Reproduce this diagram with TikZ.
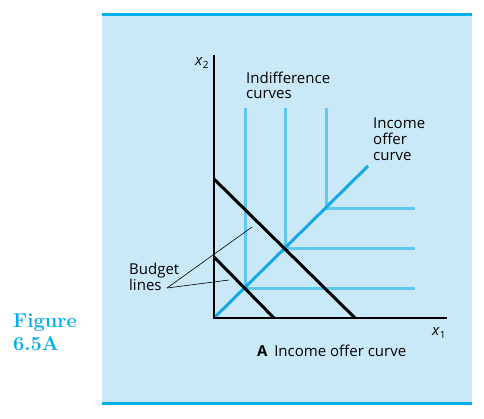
\documentclass[tikz,border=0pt]{standalone}
\usepackage{fontspec}
\setmainfont{Latin Modern Roman}
\setsansfont{Open Sans}
\definecolor{panelbg}{HTML}{C9E9F9}
\definecolor{rulecyan}{HTML}{00AEEF}
\definecolor{offercol}{HTML}{16A9E6}
\definecolor{indiffcol}{HTML}{5CC8F4}
\begin{document}
\begin{tikzpicture}[x=1pt,y=-1pt,
  lbl/.style={font=\sffamily\fontsize{15}{16}\selectfont, inner sep=0pt, align=left},
  axis/.style={line width=2pt, black},
  budget/.style={line width=3pt, black},
  indiff/.style={line width=3pt, indiffcol},
  offer/.style={line width=3pt, offercol},
  leader/.style={line width=0.6pt, black}]
\useasboundingbox (0,0) rectangle (484,418);
\fill[white] (0,0) rectangle (484,418);
\fill[panelbg] (102,15) rectangle (472,402);
\draw[rulecyan, line width=3pt] (102,14.5) -- (472,14.5);
\draw[rulecyan, line width=3pt] (102,403) -- (472,403);
% coordinates
\coordinate (O) at (214,318);
\coordinate (ytop) at (214,55);
\coordinate (xend) at (447,318);
\coordinate (c1) at (245,288);
\coordinate (c2) at (285,248);
\coordinate (c3) at (326,208);
\coordinate (oend) at (368,166);
\coordinate (b1a) at (214,257);
\coordinate (b1b) at (274,318);
\coordinate (b2a) at (214,179);
\coordinate (b2b) at (355,318);
% indifference curves
\draw[indiff] (245,108) -- (c1) -- (415,288);
\draw[indiff] (285,108) -- (c2) -- (415,248);
\draw[indiff] (326,108) -- (c3) -- (415,208);
% income offer curve
\draw[offer] (O) -- (oend);
% budget lines
\draw[budget, line cap=butt] (b1a) -- (b1b);
\draw[budget, line cap=butt] (b2a) -- (b2b);
% axes
\draw[axis] (ytop) -- (O) -- (xend);
% labels
\node[lbl, anchor=base west] (x2) at (195,65) {\textit{x}\raisebox{-0.4ex}{\fontsize{10}{11}\selectfont 2}};
\node[lbl, anchor=base west] (x1) at (432,335) {\textit{x}\raisebox{-0.4ex}{\fontsize{10}{11}\selectfont 1}};
\node[lbl, font=\sffamily\fontsize{15}{15}\selectfont, anchor=base west] (ind) at (246,98) {Indifference\\curves};
\node[lbl, anchor=base west] (inc) at (373,160.5) {Income\\offer\\curve};
\node[lbl, anchor=base west] (bud) at (129,290.5) {Budget\\lines};
\node[lbl, anchor=base west] (cap) at (257,356.5) {\textbf{A}\hspace{0.45em}Income offer curve};
\node[font=\bfseries\fontsize{20}{23}\selectfont, text=rulecyan, anchor=base west, inner sep=0pt, align=left] (fig) at (13,350.5) {Figure\\6.5A};
% leader lines
\coordinate (lstart) at (167,288);
\coordinate (l1) at (252,227);
\coordinate (l2) at (229,280);
\draw[leader] (lstart) -- (l1);
\draw[leader] (lstart) -- (l2);
\end{tikzpicture}
\end{document}
